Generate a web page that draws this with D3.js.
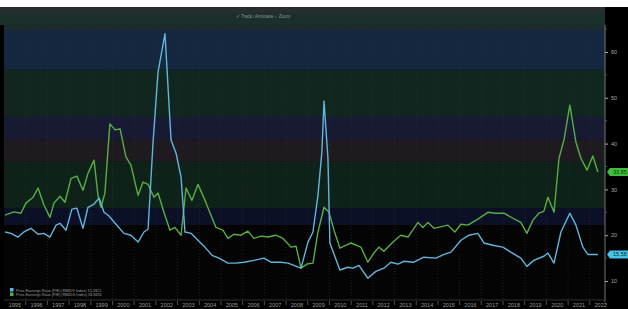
<!DOCTYPE html>
<html>
<head>
<meta charset="utf-8">
<script src="https://cdn.jsdelivr.net/npm/d3@7"></script>
<style>
    body { margin: 0; background: #fff; }
    text { font-family: 'Liberation Sans', Arial, sans-serif; }
</style>
</head>
<body>
<div id="chart"></div>
<script>
// P/E ratio, two indices, [decimal year, value]
const blueSeries = [
    [1995.05, 20.7], [1995.32, 20.4], [1995.64, 19.6], [1995.92, 20.7], [1996.24, 21.5], [1996.57, 20.2],
    [1996.84, 20.4], [1997.12, 19.6], [1997.40, 22.2], [1997.58, 22.6], [1997.86, 21.1], [1998.13, 25.7],
    [1998.36, 25.9], [1998.64, 21.5], [1998.87, 26.1], [1999.15, 26.8], [1999.38, 28.1], [1999.61, 25.0],
    [1999.84, 24.2], [2000.16, 22.4], [2000.53, 20.4], [2000.85, 20.0], [2001.18, 18.5], [2001.45, 20.7],
    [2001.64, 21.3], [2001.87, 40.3], [2002.10, 55.6], [2002.42, 64.0], [2002.70, 40.8], [2002.93, 37.9],
    [2003.16, 32.7], [2003.34, 20.7], [2003.62, 20.4], [2003.94, 18.9], [2004.26, 17.4], [2004.59, 15.6],
    [2004.91, 15.0], [2005.32, 13.9], [2005.69, 13.9], [2006.06, 14.1], [2006.52, 14.5], [2006.98, 15.0],
    [2007.30, 14.1], [2007.76, 14.1], [2008.09, 13.9], [2008.36, 13.4], [2008.69, 12.8], [2009.01, 18.5],
    [2009.24, 20.7], [2009.47, 28.7], [2009.65, 38.1], [2009.75, 49.3], [2009.93, 36.8], [2010.02, 18.3],
    [2010.48, 12.4], [2010.85, 13.0], [2011.08, 12.8], [2011.36, 13.4], [2011.77, 10.6], [2012.14, 12.1],
    [2012.51, 12.8], [2012.83, 14.1], [2013.16, 13.7], [2013.43, 14.3], [2013.89, 14.1], [2014.35, 15.2],
    [2014.91, 15.0], [2015.28, 15.8], [2015.60, 16.3], [2016.06, 18.9], [2016.43, 20.0], [2016.84, 20.4],
    [2017.12, 18.3], [2017.53, 17.8], [2017.99, 17.4], [2018.36, 16.3], [2018.82, 15.0], [2019.10, 13.2],
    [2019.42, 14.5], [2019.88, 15.4], [2020.07, 16.1], [2020.35, 13.9], [2020.67, 20.7], [2021.08, 24.8],
    [2021.36, 22.2], [2021.68, 17.4], [2021.91, 15.8], [2022.37, 15.8]
]

const greenSeries = [
    [1995.05, 24.4], [1995.46, 25.1], [1995.78, 24.8], [1996.01, 27.0], [1996.34, 28.3], [1996.57, 30.3],
    [1996.84, 26.6], [1997.12, 23.9], [1997.30, 27.0], [1997.58, 28.5], [1997.81, 27.2], [1998.09, 32.4],
    [1998.36, 32.9], [1998.64, 29.8], [1998.87, 33.5], [1999.15, 36.4], [1999.33, 28.7], [1999.47, 26.1],
    [1999.65, 29.2], [1999.88, 44.3], [2000.12, 43.0], [2000.35, 43.2], [2000.62, 37.1], [2000.85, 35.3],
    [2001.18, 28.7], [2001.41, 31.6], [2001.64, 31.1], [2001.91, 28.3], [2002.10, 29.2], [2002.37, 25.0],
    [2002.65, 21.1], [2002.88, 21.7], [2003.16, 20.0], [2003.39, 30.3], [2003.66, 27.6], [2003.94, 31.1],
    [2004.22, 28.1], [2004.45, 25.4], [2004.77, 21.7], [2005.09, 21.1], [2005.32, 19.3], [2005.60, 20.2],
    [2005.92, 20.0], [2006.24, 20.9], [2006.52, 19.3], [2006.84, 19.8], [2007.17, 19.6], [2007.53, 20.0],
    [2007.86, 19.3], [2008.23, 17.4], [2008.46, 17.6], [2008.69, 12.8], [2008.96, 13.7], [2009.24, 13.9],
    [2009.47, 20.7], [2009.75, 26.1], [2009.98, 25.0], [2010.21, 21.1], [2010.48, 17.2], [2010.99, 18.3],
    [2011.45, 17.4], [2011.77, 14.1], [2012.05, 16.1], [2012.28, 17.4], [2012.51, 16.5], [2012.93, 18.5],
    [2013.29, 20.0], [2013.62, 19.6], [2014.08, 22.8], [2014.31, 21.7], [2014.54, 22.8], [2014.82, 21.5],
    [2015.46, 22.2], [2015.78, 20.7], [2016.06, 22.4], [2016.38, 22.2], [2016.84, 23.5], [2017.30, 25.0],
    [2017.67, 24.8], [2018.04, 24.8], [2018.46, 23.7], [2018.82, 22.8], [2019.10, 20.4], [2019.38, 23.3],
    [2019.65, 24.8], [2019.88, 25.2], [2020.07, 28.3], [2020.35, 25.0], [2020.58, 36.8], [2020.81, 40.8],
    [2021.08, 48.4], [2021.36, 40.3], [2021.59, 36.8], [2021.87, 34.2], [2022.14, 37.3], [2022.37, 33.8]
]

const years = d3.range(1995, 2023)
const yTicks = [10, 20, 30, 40, 50, 60]
// std-dev band edges (value units)
const bandEdges = [65.9, 64.8, 56.1, 45.8, 40.8, 36.0, 25.9, 22.2, 5.8]
const bandColors = ['#1d2b2d', '#15263f', '#11261f', '#181a34', '#1e1a20', '#0e2219', '#0b1027', '#040404']
const lastValues = { blue: '15.58', green: '33.85' }
const legendLabels = [
    'Price Earnings Ratio (P/E) (RMIDV Index) 15.5821',
    'Price Earnings Ratio (P/E) (RMIDG Index) 33.8494'
]

const W = 628, H = 309
const plot = { left: 4, right: 605, top: 25, bottom: 300 }
const blueColor = '#62b6dc'
const greenColor = '#58ae45'

const svg = d3.select('#chart').append('svg')
    .attr('width', W)
    .attr('height', H)

const x = d3.scaleLinear().domain([1995, 2022.7]).range([plot.left, plot.right])
const y = d3.scaleLinear().domain([10, 60]).range([281, 52])

// frame
svg.append('rect').attr('x', 0).attr('y', 7).attr('width', W).attr('height', H - 7).attr('fill', '#000')
svg.append('rect').attr('x', 0).attr('y', 7).attr('width', plot.right).attr('height', 6).attr('fill', '#292d2d')
svg.append('rect').attr('x', 0).attr('y', 13).attr('width', plot.right).attr('height', 12).attr('fill', '#1b2f2b')
svg.append('text')
    .attr('x', 263).attr('y', 18)
    .attr('text-anchor', 'middle')
    .attr('font-size', 4.5)
    .attr('fill', '#8a9a96')
    .text('\u2713 Track   \u2215 Annotate   \u2315 Zoom')

// bands
svg.append('g').selectAll('rect')
    .data(bandColors)
    .join('rect')
    .attr('x', plot.left)
    .attr('width', plot.right - plot.left)
    .attr('y', (d, i) => y(bandEdges[i]))
    .attr('height', (d, i) => y(bandEdges[i + 1]) - y(bandEdges[i]))
    .attr('fill', d => d)

// vertical grid at year boundaries
svg.append('g').selectAll('line')
    .data(years.slice(1))
    .join('line')
    .attr('x1', d => x(d)).attr('x2', d => x(d))
    .attr('y1', plot.top).attr('y2', plot.bottom)
    .attr('stroke', '#2a3236')
    .attr('stroke-width', 0.6)
    .attr('stroke-dasharray', '1,2')

// lines
const line = d3.line()
    .x(d => x(d[0]))
    .y(d => y(d[1]))

svg.append('path')
    .attr('d', line(greenSeries))
    .attr('fill', 'none')
    .attr('stroke', greenColor)
    .attr('stroke-width', 1.4)
    .attr('stroke-linejoin', 'round')

svg.append('path')
    .attr('d', line(blueSeries))
    .attr('fill', 'none')
    .attr('stroke', blueColor)
    .attr('stroke-width', 1.4)
    .attr('stroke-linejoin', 'round')

// right axis
const yAxis = svg.append('g')
    .attr('transform', `translate(${plot.right}, 0)`)
    .call(d3.axisRight(y).tickValues(yTicks).tickSize(3).tickPadding(3))
yAxis.select('.domain').attr('stroke', '#777').attr('d', `M0,${plot.top}V${plot.bottom + 2}`)
yAxis.selectAll('line').attr('stroke', '#aaa')
yAxis.selectAll('text').attr('fill', '#aaa').attr('font-size', 5.5).attr('font-family', 'Liberation Sans')

// minor ticks
svg.append('g').selectAll('line')
    .data(d3.range(5, 66, 5).filter(v => v % 10 !== 0))
    .join('line')
    .attr('x1', plot.right).attr('x2', plot.right + 2)
    .attr('y1', d => y(d)).attr('y2', d => y(d))
    .attr('stroke', '#555')

// last value tags
const tags = [
    { v: greenSeries[greenSeries.length - 1][1], label: lastValues.green, color: '#3fbf3c' },
    { v: blueSeries[blueSeries.length - 1][1], label: lastValues.blue, color: '#46c3ea' }
]
const tag = svg.append('g').selectAll('g')
    .data(tags)
    .join('g')
    .attr('transform', d => `translate(${plot.right + 2}, ${y(d.v)})`)
tag.append('path')
    .attr('d', 'M0,0 L3,-4 H23 V4 H3 Z')
    .attr('fill', d => d.color)
tag.append('text')
    .attr('x', 6).attr('y', 2)
    .attr('font-size', 5.5)
    .attr('fill', '#103010')
    .text(d => d.label)

// x axis, year labels centred in each year
const xg = svg.append('g')
svg.append('line')
    .attr('x1', plot.left).attr('x2', plot.right)
    .attr('y1', plot.bottom).attr('y2', plot.bottom)
    .attr('stroke', '#333')
xg.selectAll('line')
    .data(years.slice(1))
    .join('line')
    .attr('x1', d => x(d)).attr('x2', d => x(d))
    .attr('y1', plot.bottom + 1).attr('y2', plot.bottom + 5)
    .attr('stroke', '#888')
    .attr('stroke-width', 0.6)
xg.selectAll('text')
    .data(years)
    .join('text')
    .attr('x', d => x(d + 0.5))
    .attr('y', 307)
    .attr('text-anchor', 'middle')
    .attr('font-size', 5.5)
    .attr('fill', '#9a9a9a')
    .text(d => d)

// legend
const leg = svg.append('g').selectAll('g')
    .data(legendLabels)
    .join('g')
    .attr('transform', (d, i) => `translate(10, ${291 + i * 4.5})`)
leg.append('rect')
    .attr('x', 0).attr('y', -3).attr('width', 3.5).attr('height', 3.5)
    .attr('fill', (d, i) => i === 0 ? blueColor : greenColor)
leg.append('text')
    .attr('x', 6).attr('y', 0.5)
    .attr('font-size', 3.8)
    .attr('fill', '#9a9a9a')
    .text(d => d)
</script>
</body>
</html>
